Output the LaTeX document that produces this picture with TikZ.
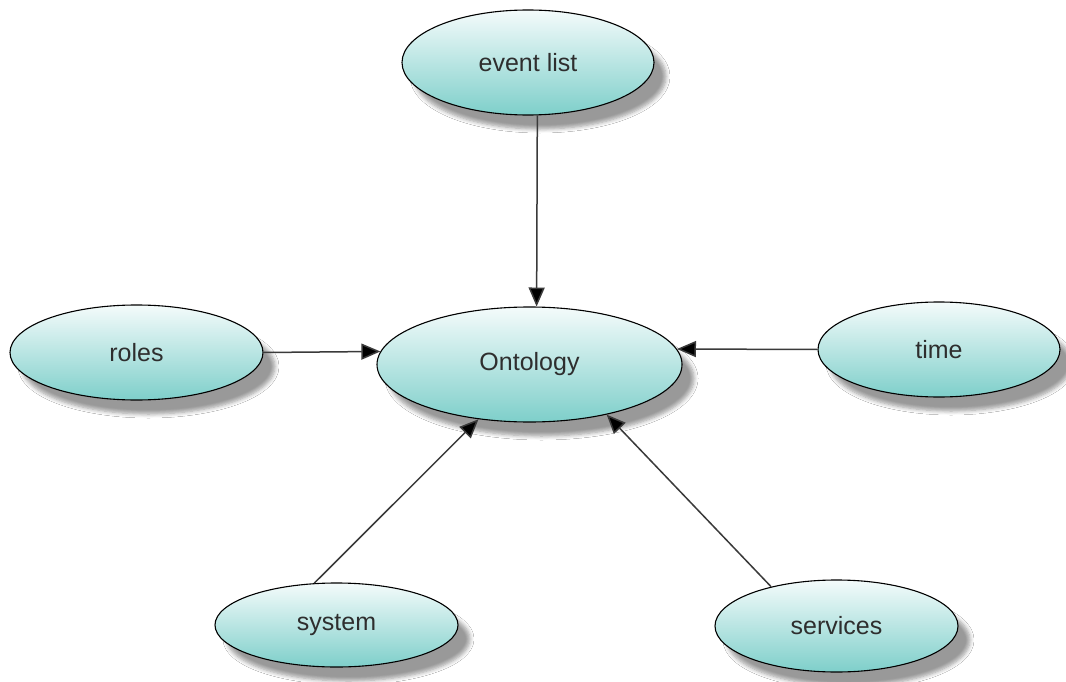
\documentclass[tikz,border=0pt]{standalone}
\usepackage{fontspec}
\setmainfont{Liberation Sans}
\usetikzlibrary{shapes.geometric,shadows.blur,arrows.meta}
\definecolor{topc}{HTML}{F4FBFB}
\definecolor{botc}{HTML}{7ECFCA}
\definecolor{txtc}{HTML}{2E2E2E}
\definecolor{edgec}{HTML}{3A3A3A}
\tikzset{
  concept/.style={ellipse, draw=black, line width=1.1pt, top color=topc, bottom color=botc,
    inner sep=0pt, font=\fontsize{25}{30}\selectfont, text=txtc,
    blur shadow={shadow xshift=12pt, shadow yshift=-14pt, shadow blur steps=6, shadow blur radius=4pt, shadow opacity=40}},
  link/.style={draw=edgec, line width=1.5pt, -{Triangle[length=19pt,width=16pt,fill=black]}}
}
\begin{document}
\begin{tikzpicture}[x=1pt,y=-1pt]
\useasboundingbox[fill=white] (0,0) rectangle (1066,682);
\node[concept, minimum width=252pt, minimum height=105pt] (ev) at (528,62.5) {event list};
\node[concept, minimum width=305pt, minimum height=115pt] (ont) at (529.5,364.5) {Ontology};
\node[concept, minimum width=253pt, minimum height=95pt] (roles) at (136.5,352.5) {roles};
\node[concept, minimum width=242pt, minimum height=95pt] (time) at (939,349.5) {time};
\node[concept, minimum width=243pt, minimum height=84pt] (sys) at (336.5,625) {system};
\node[concept, minimum width=243pt, minimum height=92pt] (serv) at (836.5,626) {services};
\draw[link] (ev.-80) -- (ont.83);
\draw[link] (roles.east) -- (ont.175);
\draw[link] (time.west) -- (ont.6);
\draw[link] (sys.118) -- (ont.227);
\draw[link] (serv.149.5) -- (ont.-33);
\end{tikzpicture}
\end{document}
